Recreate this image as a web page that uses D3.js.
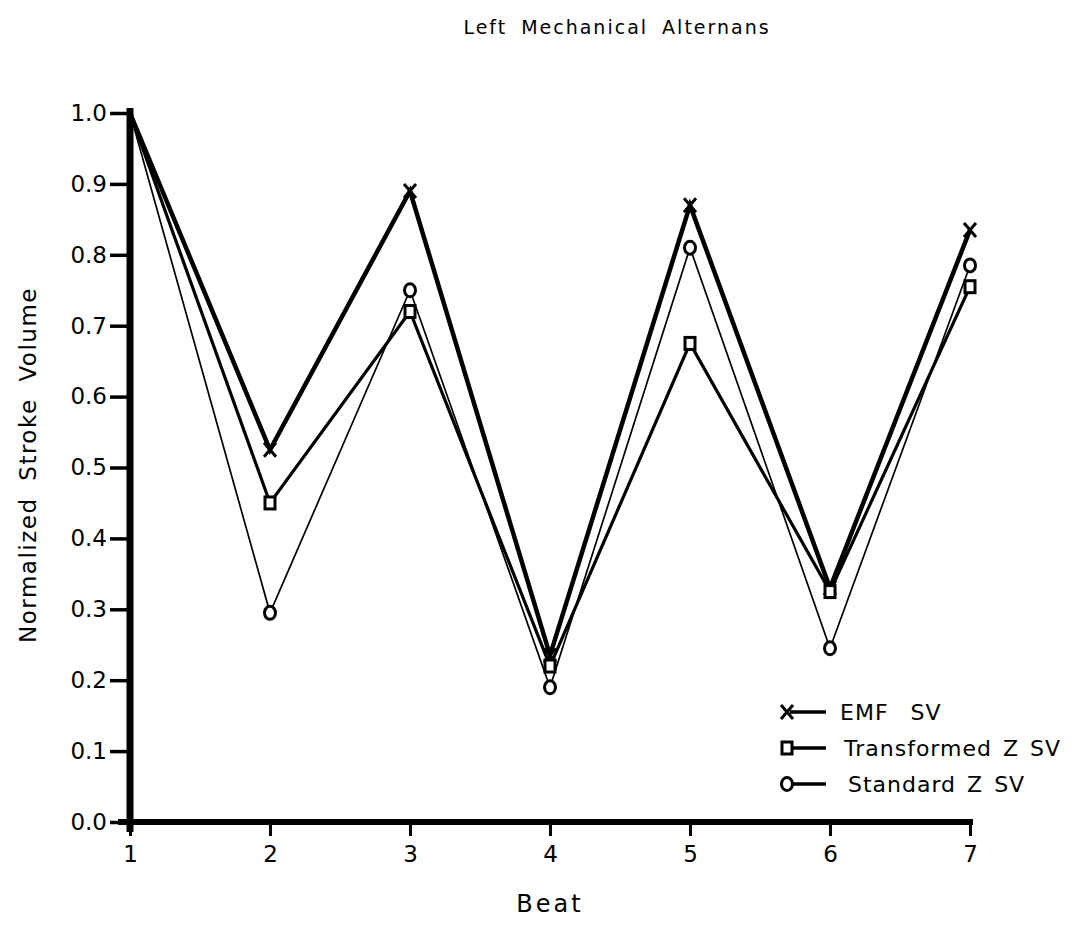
<!DOCTYPE html>
<html>
<head>
    <script src="https://d3js.org/d3.v7.min.js"></script>
    <style>
        body { margin: 0; background: #fff; }
        text { font-family: "DejaVu Sans", "Liberation Sans", sans-serif; fill: #000; }
        .tick text { font-size: 23px; }
    </style>
</head>
<body>
    <svg width="1082" height="925"></svg>

    <script>
        const width = 1082, height = 925;
        const svg = d3.select("svg");

        // data
        const beats = [1, 2, 3, 4, 5, 6, 7];
        const emfSV = [1.0, 0.525, 0.89, 0.235, 0.87, 0.33, 0.835];
        const transformedSV = [1.0, 0.45, 0.72, 0.22, 0.675, 0.325, 0.755];
        const standardSV = [1.0, 0.295, 0.75, 0.19, 0.81, 0.245, 0.785];
        const yTicks = [0, 0.1, 0.2, 0.3, 0.4, 0.5, 0.6, 0.7, 0.8, 0.9, 1.0];
        const seriesNames = ["EMF  SV", "Transformed Z SV", "Standard Z SV"];

        const x = d3.scaleLinear().domain([1, 7]).range([130, 970]);
        const y = d3.scaleLinear().domain([0, 1]).range([822, 113]);

        const series = [
            { name: seriesNames[0], values: emfSV, width: 4.5, marker: "x" },
            { name: seriesNames[1], values: transformedSV, width: 3.2, marker: "square" },
            { name: seriesNames[2], values: standardSV, width: 1.7, marker: "circle" }
        ];

        // title
        svg.append("text")
            .attr("x", 617).attr("y", 34)
            .attr("text-anchor", "middle")
            .attr("font-size", 19)
            .attr("letter-spacing", 2)
            .attr("word-spacing", 6)
            .text("Left Mechanical Alternans");

        // y axis
        const yAxis = svg.append("g")
            .attr("transform", "translate(130,0)")
            .call(d3.axisLeft(y).tickValues(yTicks).tickFormat(d3.format(".1f")).tickSize(20).tickPadding(3));
        yAxis.select(".domain").remove();
        yAxis.selectAll(".tick line").attr("stroke-width", 3.5);
        svg.append("line")
            .attr("x1", 130).attr("x2", 130)
            .attr("y1", 108).attr("y2", 832)
            .attr("stroke", "#000").attr("stroke-width", 7);

        // x axis
        const xAxis = svg.append("g")
            .attr("transform", "translate(0,822)")
            .call(d3.axisBottom(x).tickValues(beats).tickFormat(d3.format("d")).tickSize(14).tickPadding(10));
        xAxis.select(".domain").remove();
        xAxis.selectAll(".tick line").attr("stroke-width", 3);
        svg.append("line")
            .attr("x1", 118).attr("x2", 973)
            .attr("y1", 822).attr("y2", 822)
            .attr("stroke", "#000").attr("stroke-width", 6);

        // axis titles
        svg.append("text")
            .attr("transform", "translate(36,465) rotate(-90)")
            .attr("text-anchor", "middle")
            .attr("font-size", 23)
            .attr("letter-spacing", 1.5)
            .attr("word-spacing", 8)
            .text("Normalized Stroke Volume");
        svg.append("text")
            .attr("x", 550).attr("y", 912)
            .attr("text-anchor", "middle")
            .attr("font-size", 24)
            .attr("letter-spacing", 3)
            .text("Beat");

        // lines
        const line = d3.line()
            .x((d, i) => x(beats[i]))
            .y(d => y(d));

        series.forEach(s => {
            svg.append("path")
                .datum(s.values)
                .attr("d", line)
                .attr("fill", "none")
                .attr("stroke", "#000")
                .attr("stroke-width", s.width)
                .attr("stroke-linejoin", "miter");
        });

        function drawMarker(g, type, cx, cy) {
            if (type === "x") {
                g.append("path")
                    .attr("d", `M${cx - 6},${cy - 7}L${cx + 6},${cy + 7}M${cx + 6},${cy - 7}L${cx - 6},${cy + 7}`)
                    .attr("stroke", "#000").attr("stroke-width", 3).attr("fill", "none");
            } else if (type === "square") {
                g.append("rect")
                    .attr("x", cx - 5).attr("y", cy - 6)
                    .attr("width", 10).attr("height", 12)
                    .attr("fill", "#fff").attr("stroke", "#000").attr("stroke-width", 3);
            } else {
                g.append("ellipse")
                    .attr("cx", cx).attr("cy", cy)
                    .attr("rx", 5.5).attr("ry", 6.5)
                    .attr("fill", "#fff").attr("stroke", "#000").attr("stroke-width", 3);
            }
        }

        const markers = svg.append("g");
        series.forEach(s => {
            s.values.forEach((v, i) => {
                if (i === 0) return;
                drawMarker(markers, s.marker, x(beats[i]), y(v));
            });
        });

        // legend
        const legend = svg.append("g");
        series.forEach((s, i) => {
            const ly = 712 + i * 36;
            legend.append("line")
                .attr("x1", 790).attr("x2", 826)
                .attr("y1", ly).attr("y2", ly)
                .attr("stroke", "#000").attr("stroke-width", 3.5);
            drawMarker(legend, s.marker, 787, ly);
            legend.append("text")
                .attr("x", 840 + i * 4).attr("y", ly + 8)
                .attr("font-size", 22)
                .attr("letter-spacing", 1)
                .attr("word-spacing", 3)
                .style("white-space", "pre")
                .text(s.name);
        });
    </script>
</body>
</html>
